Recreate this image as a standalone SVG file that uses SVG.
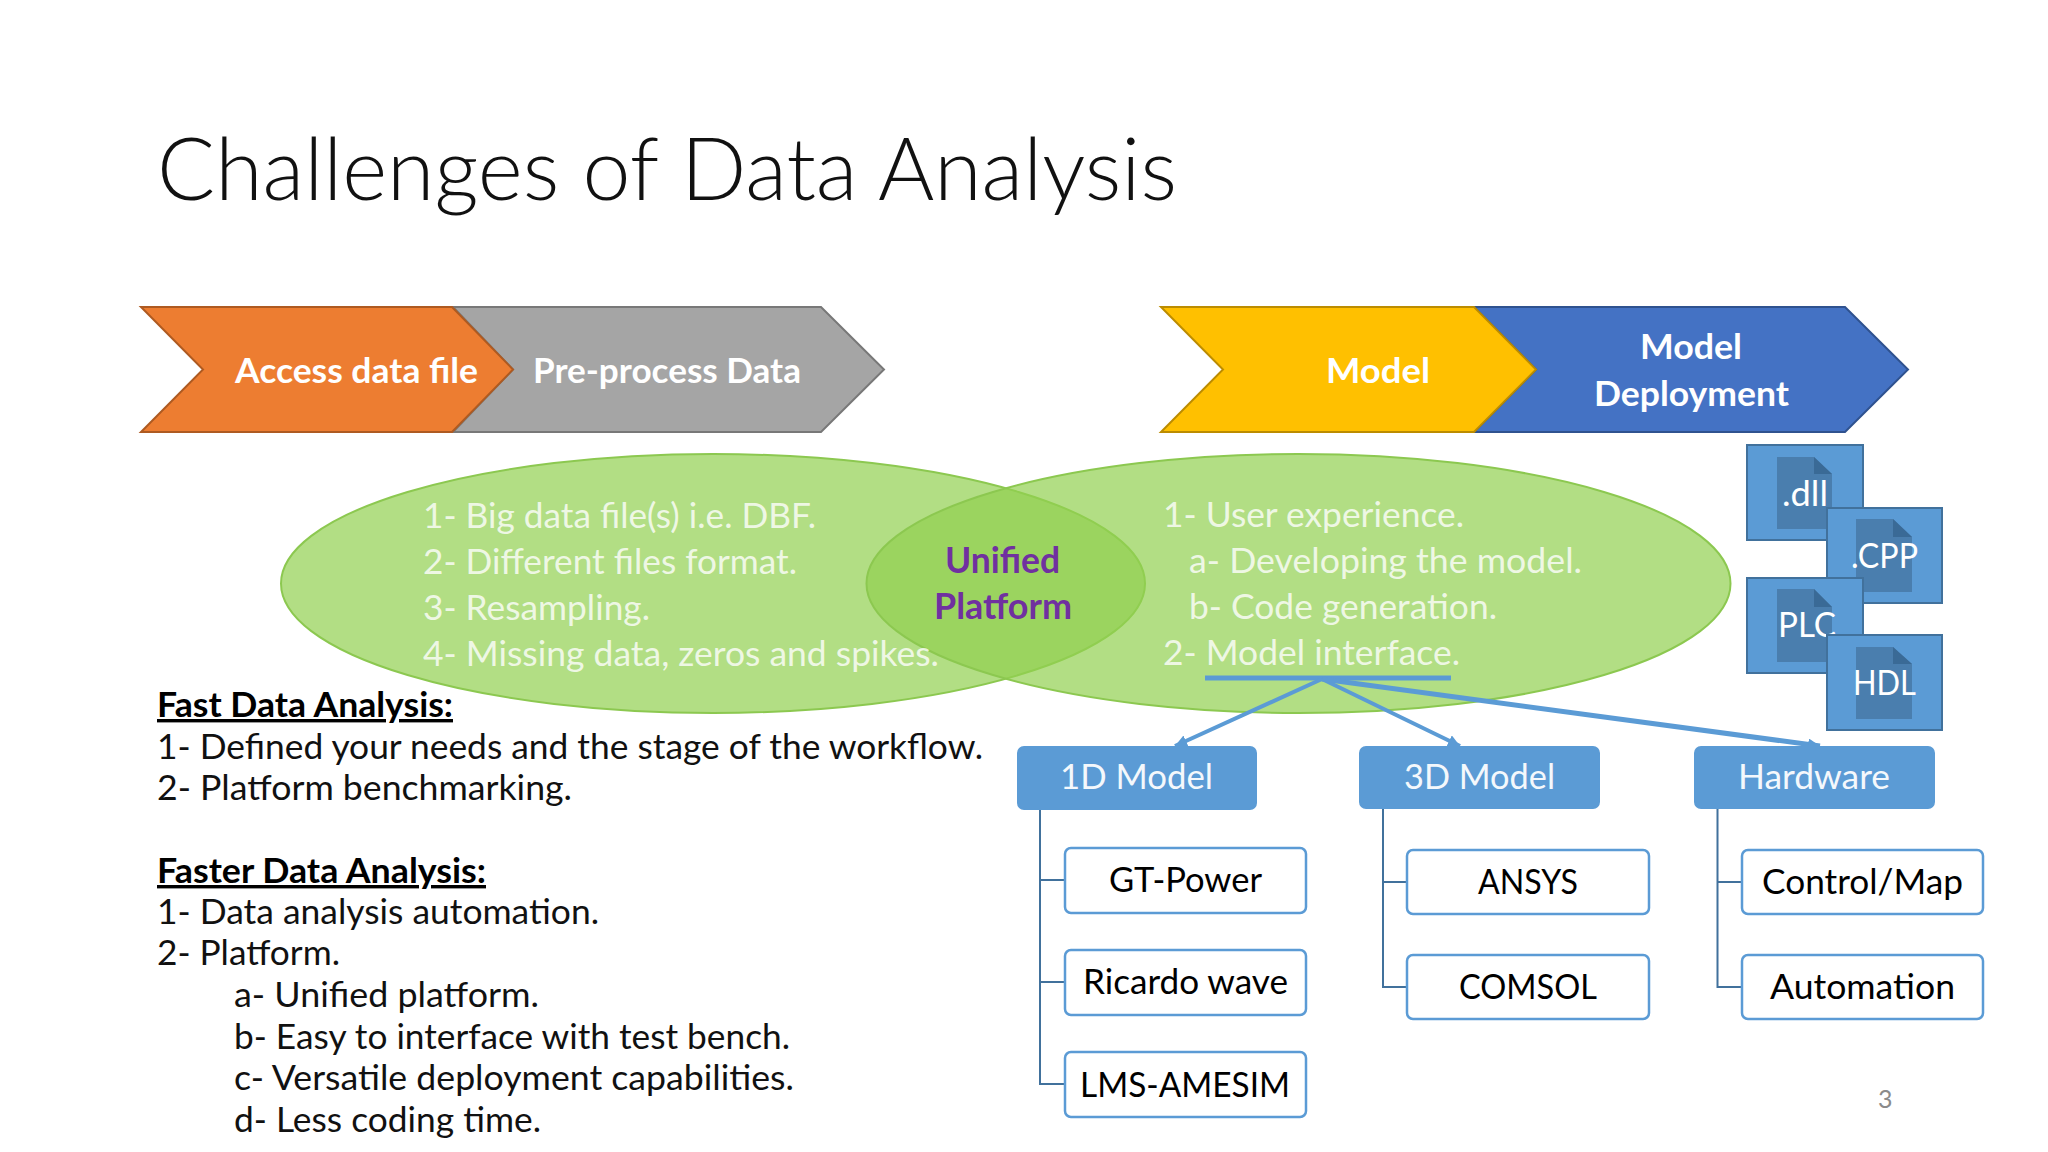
<svg xmlns="http://www.w3.org/2000/svg" width="2048" height="1152" viewBox="0 0 2048 1152">
<style>
text{font-family:Lato,"Liberation Sans",sans-serif}
.t{font-size:87px;font-weight:300;fill:#111}
.cw{font-size:35px;font-weight:700;fill:#fff}
.ev{font-size:35px;fill:#fff;fill-opacity:.8}
.un{font-size:36px;font-weight:700;fill:#7030a0}
.b{font-size:34px;fill:#111}
.bh{font-size:34px;font-weight:700;fill:#000;text-decoration:underline}
.mh{font-size:35px;fill:#f4f8fc}
.ch{font-size:35px;fill:#000}
.mb{fill:#5b9bd5;stroke:#5b9bd5;stroke-width:2}
.cb{fill:#fff;stroke:#5b9bd5;stroke-width:2.5}
.doc{fill:#5b9bd5;stroke:#41719c;stroke-width:2}
.pg{fill:#4a7eae}.fold{fill:#3a6a96}
.ft{font-size:34px;fill:#fff}
.tree{fill:none;stroke:#41719c;stroke-width:2}
.ar{fill:none;stroke:#5b9bd5;stroke-width:4;marker-end:url(#a)}
</style>
<defs>
<marker id="a" markerUnits="userSpaceOnUse" markerWidth="14" markerHeight="14" refX="12" refY="6" orient="auto"><path d="M0 0L12 6L0 12Z" fill="#5b9bd5"/></marker>
</defs>
<rect width="2048" height="1152" fill="#fff"/>
<text class="t" x="157" y="200" textLength="1020" lengthAdjust="spacingAndGlyphs">Challenges of Data Analysis</text>

<g id="chevron-preprocess"><path d="M453 307H821L884 369.500L821 432H453L513 369.500Z" fill="#a5a5a5" stroke="#787878" stroke-width="2"/><text class="cw" x="533" y="383" textLength="268" lengthAdjust="spacingAndGlyphs">Pre-process Data</text></g>
<g id="chevron-access"><path d="M141 307H452L513 369.500L452 432H141L203 369.500Z" fill="#ed7d31" stroke="#ae5a21" stroke-width="2"/><text class="cw" x="235" y="383" textLength="243" lengthAdjust="spacingAndGlyphs">Access data file</text></g>
<g id="chevron-deployment"><path d="M1474 307H1845L1908 369.500L1845 432H1474L1536 369.500Z" fill="#4472c4" stroke="#2f528f" stroke-width="2"/><text class="cw" x="1640" y="359" textLength="102" lengthAdjust="spacingAndGlyphs">Model</text><text class="cw" x="1594" y="406" textLength="195" lengthAdjust="spacingAndGlyphs">Deployment</text></g>
<g id="chevron-model"><path d="M1161 307H1474L1536 369.500L1474 432H1161L1223 369.500Z" fill="#ffc000" stroke="#bc8c00" stroke-width="2"/><text class="cw" x="1326" y="383" textLength="104" lengthAdjust="spacingAndGlyphs">Model</text></g>

<g id="ellipse-left"><ellipse cx="713" cy="583.500" rx="432" ry="129.500" fill="#92d050" fill-opacity=".7" stroke="#8cc850" stroke-width="2"/></g>
<g id="ellipse-right"><ellipse cx="1298.500" cy="583.500" rx="432" ry="129.500" fill="#92d050" fill-opacity=".7" stroke="#8cc850" stroke-width="2"/></g>
<g id="left-list">
<text class="ev" x="423" y="528" textLength="393" lengthAdjust="spacingAndGlyphs">1- Big data file(s) i.e. DBF.</text>
<text class="ev" x="423" y="574" textLength="374" lengthAdjust="spacingAndGlyphs">2- Different files format.</text>
<text class="ev" x="423" y="620" textLength="227" lengthAdjust="spacingAndGlyphs">3- Resampling.</text>
<text class="ev" x="423" y="666" textLength="516" lengthAdjust="spacingAndGlyphs">4- Missing data, zeros and spikes.</text>
</g>
<g id="unified"><text class="un" x="945" y="573" textLength="115" lengthAdjust="spacingAndGlyphs">Unified</text><text class="un" x="934" y="619" textLength="138" lengthAdjust="spacingAndGlyphs">Platform</text></g>
<g id="right-list">
<text class="ev" x="1163" y="527" textLength="301" lengthAdjust="spacingAndGlyphs">1- User experience.</text>
<text class="ev" x="1189" y="573" textLength="393" lengthAdjust="spacingAndGlyphs">a- Developing the model.</text>
<text class="ev" x="1189" y="619" textLength="308" lengthAdjust="spacingAndGlyphs">b- Code generation.</text>
<text class="ev" x="1163" y="665" textLength="297" lengthAdjust="spacingAndGlyphs">2- Model interface.</text>
</g>

<g id="file-dll"><rect class="doc" x="1747" y="445" width="116" height="95"/><path class="pg" d="M1777 457H1814L1832 474V529H1777Z"/><path class="fold" d="M1814 457L1832 474H1814Z"/><text class="ft" x="1782" y="506" textLength="46" lengthAdjust="spacingAndGlyphs">.dll</text></g>
<g id="file-cpp"><rect class="doc" x="1827" y="508" width="115" height="95"/><path class="pg" d="M1856 519H1893L1912 537V592H1856Z"/><path class="fold" d="M1893 519L1912 537H1893Z"/><text class="ft" x="1851" y="568" textLength="67" lengthAdjust="spacingAndGlyphs">.CPP</text></g>
<g id="file-plc"><rect class="doc" x="1747" y="578" width="116" height="95"/><path class="pg" d="M1777 589H1814L1832 607V662H1777Z"/><path class="fold" d="M1814 589L1832 607H1814Z"/><text class="ft" x="1778" y="637" textLength="58" lengthAdjust="spacingAndGlyphs">PLC</text></g>
<g id="file-hdl"><rect class="doc" x="1827" y="635" width="115" height="95"/><path class="pg" d="M1856 647H1893L1912 664V719H1856Z"/><path class="fold" d="M1893 647L1912 664H1893Z"/><text class="ft" x="1853" y="695" textLength="63" lengthAdjust="spacingAndGlyphs">HDL</text></g>

<g id="connectors">
<path d="M1205 678H1451" fill="none" stroke="#5b9bd5" stroke-width="5"/>
<path class="ar" d="M1322 679L1175 746"/>
<path class="ar" d="M1322 679L1460 746"/>
<path class="ar" style="stroke-width:5" d="M1322 679L1820 746"/>
<path class="tree" d="M1040 809V1084H1064M1040 880H1064M1040 982H1064"/>
<path class="tree" d="M1383 808V987H1407M1383 882H1407"/>
<path class="tree" d="M1717.500 808V987H1742M1717.500 882H1742"/>
</g>

<g id="model-1d"><rect class="mb" x="1018" y="747" width="238" height="62" rx="6"/><text class="mh" x="1060" y="789" textLength="153" lengthAdjust="spacingAndGlyphs">1D Model</text></g>
<g id="model-3d"><rect class="mb" x="1360" y="747" width="239" height="61" rx="6"/><text class="mh" x="1404" y="789" textLength="151" lengthAdjust="spacingAndGlyphs">3D Model</text></g>
<g id="hardware"><rect class="mb" x="1695" y="747" width="239" height="61" rx="6"/><text class="mh" x="1738" y="789" textLength="152" lengthAdjust="spacingAndGlyphs">Hardware</text></g>

<g id="gt-power"><rect class="cb" x="1065" y="848" width="241" height="65" rx="6"/><text class="ch" x="1109" y="892" textLength="153" lengthAdjust="spacingAndGlyphs">GT-Power</text></g>
<g id="ricardo"><rect class="cb" x="1065" y="950" width="241" height="65" rx="6"/><text class="ch" x="1083" y="994" textLength="205" lengthAdjust="spacingAndGlyphs">Ricardo wave</text></g>
<g id="lms"><rect class="cb" x="1065" y="1052" width="241" height="65" rx="6"/><text class="ch" x="1080" y="1097" textLength="210" lengthAdjust="spacingAndGlyphs">LMS-AMESIM</text></g>
<g id="ansys"><rect class="cb" x="1407" y="850" width="242" height="64" rx="6"/><text class="ch" x="1478" y="894" textLength="100" lengthAdjust="spacingAndGlyphs">ANSYS</text></g>
<g id="comsol"><rect class="cb" x="1407" y="955" width="242" height="64" rx="6"/><text class="ch" x="1459" y="999" textLength="138" lengthAdjust="spacingAndGlyphs">COMSOL</text></g>
<g id="control"><rect class="cb" x="1742" y="850" width="241" height="64" rx="6"/><text class="ch" x="1762" y="894" textLength="201" lengthAdjust="spacingAndGlyphs">Control/Map</text></g>
<g id="automation"><rect class="cb" x="1742" y="955" width="241" height="64" rx="6"/><text class="ch" x="1770" y="999" textLength="185" lengthAdjust="spacingAndGlyphs">Automation</text></g>

<g id="notes">
<text class="bh" x="157" y="717" textLength="296" lengthAdjust="spacingAndGlyphs">Fast Data Analysis:</text>
<text class="b" x="157" y="759" textLength="826" lengthAdjust="spacingAndGlyphs">1- Defined your needs and the stage of the workflow.</text>
<text class="b" x="157" y="800" textLength="415" lengthAdjust="spacingAndGlyphs">2- Platform benchmarking.</text>
<text class="bh" x="157" y="883" textLength="329" lengthAdjust="spacingAndGlyphs">Faster Data Analysis:</text>
<text class="b" x="157" y="924" textLength="442" lengthAdjust="spacingAndGlyphs">1- Data analysis automation.</text>
<text class="b" x="157" y="965" textLength="183" lengthAdjust="spacingAndGlyphs">2- Platform.</text>
<text class="b" x="234" y="1007" textLength="305" lengthAdjust="spacingAndGlyphs">a- Unified platform.</text>
<text class="b" x="234" y="1049" textLength="556" lengthAdjust="spacingAndGlyphs">b- Easy to interface with test bench.</text>
<text class="b" x="234" y="1090" textLength="560" lengthAdjust="spacingAndGlyphs">c- Versatile deployment capabilities.</text>
<text class="b" x="234" y="1132" textLength="307" lengthAdjust="spacingAndGlyphs">d- Less coding time.</text>
</g>
<text x="1878" y="1108" font-size="25" fill="#8b8b8b">3</text>
</svg>
